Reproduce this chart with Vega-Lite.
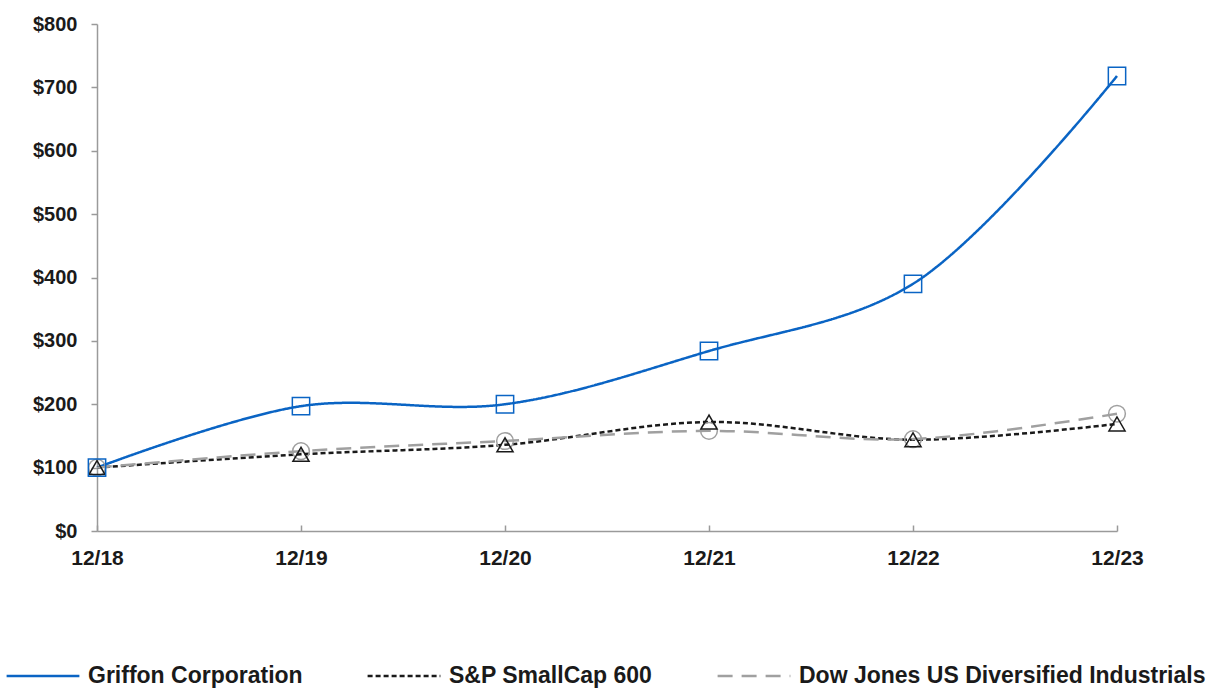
{
  "$schema": "https://vega.github.io/schema/vega-lite/v6.json",
  "width": 1020,
  "height": 507,
  "autosize": {"type": "none"},
  "padding": {"left": 97, "top": 24, "right": 92, "bottom": 159},
  "background": "white",
  "config": {
    "view": {"stroke": null},
    "font": "Liberation Sans",
    "legend": {
      "symbolType": "stroke",
      "symbolSize": 5300,
      "symbolStrokeWidth": 2.5,
      "labelFontSize": 23,
      "labelFontWeight": "bold",
      "labelColor": "#1a1a1a",
      "labelFont": "Liberation Sans",
      "labelOffset": 7,
      "columnPadding": 59,
      "labelLimit": 600
    }
  },
  "data": {
    "values": [
      {"period": "12/18", "series": "Griffon Corporation", "value": 100},
      {"period": "12/19", "series": "Griffon Corporation", "value": 197},
      {"period": "12/20", "series": "Griffon Corporation", "value": 200},
      {"period": "12/21", "series": "Griffon Corporation", "value": 284},
      {"period": "12/22", "series": "Griffon Corporation", "value": 390},
      {"period": "12/23", "series": "Griffon Corporation", "value": 718},
      {"period": "12/18", "series": "S&P SmallCap 600", "value": 100},
      {"period": "12/19", "series": "S&P SmallCap 600", "value": 121},
      {"period": "12/20", "series": "S&P SmallCap 600", "value": 136},
      {"period": "12/21", "series": "S&P SmallCap 600", "value": 172},
      {"period": "12/22", "series": "S&P SmallCap 600", "value": 144},
      {"period": "12/23", "series": "S&P SmallCap 600", "value": 169},
      {"period": "12/18", "series": "Dow Jones US Diversified Industrials", "value": 100},
      {"period": "12/19", "series": "Dow Jones US Diversified Industrials", "value": 126},
      {"period": "12/20", "series": "Dow Jones US Diversified Industrials", "value": 142},
      {"period": "12/21", "series": "Dow Jones US Diversified Industrials", "value": 158},
      {"period": "12/22", "series": "Dow Jones US Diversified Industrials", "value": 145},
      {"period": "12/23", "series": "Dow Jones US Diversified Industrials", "value": 185}
    ]
  },
  "encoding": {
    "x": {
      "field": "period",
      "type": "ordinal",
      "sort": ["12/18", "12/19", "12/20", "12/21", "12/22", "12/23"],
      "scale": {"type": "point", "padding": 0},
      "axis": {
        "title": null,
        "labelAngle": 0,
        "labelFontSize": 21,
        "labelFontWeight": "bold",
        "labelColor": "#1a1a1a",
        "labelPadding": 22,
        "domainColor": "#9a9a9a",
        "domainWidth": 1.5,
        "tickColor": "#9a9a9a",
        "tickSize": -6,
        "tickWidth": 1.5,
        "grid": false
      }
    },
    "y": {
      "field": "value",
      "type": "quantitative",
      "scale": {"domain": [0, 800], "nice": false},
      "axis": {
        "title": null,
        "values": [0, 100, 200, 300, 400, 500, 600, 700, 800],
        "format": "$.0f",
        "labelFontSize": 20,
        "labelFontWeight": "bold",
        "labelColor": "#1a1a1a",
        "labelPadding": 14,
        "domainColor": "#9a9a9a",
        "domainWidth": 1.5,
        "tickColor": "#9a9a9a",
        "tickSize": 6,
        "tickWidth": 1.5,
        "grid": false
      }
    },
    "color": {
      "field": "series",
      "type": "nominal",
      "scale": {
        "domain": ["Griffon Corporation", "S&P SmallCap 600", "Dow Jones US Diversified Industrials"],
        "range": ["#0a64c4", "#1a1a1a", "#a0a0a0"]
      },
      "legend": {"title": null, "orient": "none", "direction": "horizontal", "legendX": -92, "legendY": 614, "symbolType": "stroke", "symbolSize": 5300}
    }
  },
  "layer": [
    {
      "mark": {"type": "line", "interpolate": "catmull-rom", "strokeWidth": 2.5},
      "encoding": {
        "strokeDash": {
          "field": "series",
          "type": "nominal",
          "scale": {
            "domain": ["Griffon Corporation", "S&P SmallCap 600", "Dow Jones US Diversified Industrials"],
            "range": [[1, 0], [5, 3], [15, 9]]
          },
          "legend": {"title": null, "orient": "none", "direction": "horizontal", "legendX": -92, "legendY": 614, "symbolType": "stroke", "symbolSize": 5300}
        }
      }
    },
    {
      "transform": [{"filter": "datum.series === 'Dow Jones US Diversified Industrials'"}],
      "mark": {"type": "point", "shape": "circle", "filled": false, "size": 280, "strokeWidth": 1.5, "opacity": 1},
      "encoding": {"color": {"field": "series", "type": "nominal", "legend": null}}
    },
    {
      "transform": [{"filter": "datum.series === 'S&P SmallCap 600'"}],
      "mark": {"type": "point", "shape": "triangle-up", "filled": false, "size": 260, "strokeWidth": 1.5, "opacity": 1},
      "encoding": {"color": {"field": "series", "type": "nominal", "legend": null}}
    },
    {
      "transform": [{"filter": "datum.series === 'Griffon Corporation'"}],
      "mark": {"type": "point", "shape": "square", "filled": false, "size": 300, "strokeWidth": 1.5, "opacity": 1},
      "encoding": {"color": {"field": "series", "type": "nominal", "legend": null}}
    }
  ]
}
